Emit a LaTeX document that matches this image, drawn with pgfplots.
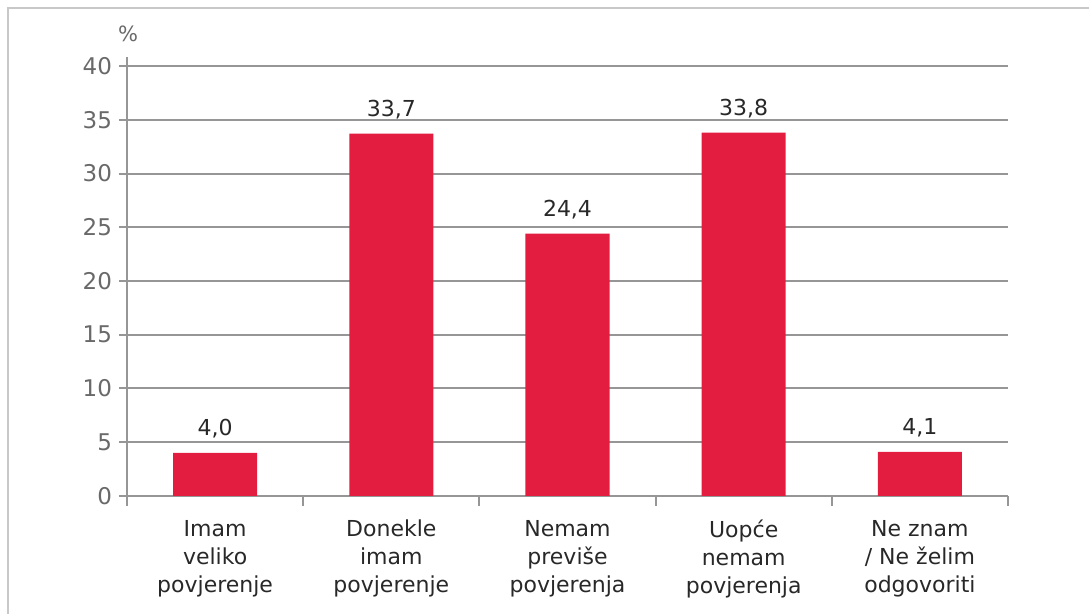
\documentclass[border=0pt]{standalone}
\usepackage{fontspec}
\setmainfont{DejaVu Sans}
\usepackage{pgfplots}
\pgfplotsset{compat=1.18}
\definecolor{barred}{RGB}{227,29,64}
\definecolor{gridc}{RGB}{150,150,150}
\definecolor{framec}{RGB}{200,200,200}
\definecolor{tickc}{RGB}{105,105,105}
\definecolor{txt}{RGB}{40,40,40}
\begin{document}
\begin{tikzpicture}
\useasboundingbox (0,0) rectangle (544.5pt,307pt);
\draw[framec, line width=1.2pt] (4pt,0) -- (4pt,303pt) -- (544.5pt,303pt);
\node[text=tickc, font=\fontsize{10.5}{12}\selectfont] at (64pt,290pt) {\%};
\begin{axis}[
  at={(63.5pt,59pt)}, anchor=south west,
  scale only axis, width=440.5pt, height=219.5pt,
  xmin=-0.5, xmax=4.5, ymin=0, ymax=40.84,
  axis x line*=bottom, axis y line*=left,
  axis line style={gridc, line width=1pt},
  ytick={0,5,...,40},
  ymajorgrids, grid style={gridc, line width=1pt},
  tick align=outside,
  major tick length=4pt,
  y tick style={gridc, line width=1pt},
  yticklabel style={text=tickc, font=\fontsize{11.5}{13}\selectfont},
  /pgf/number format/assume math mode=true,
  xtick={0,...,4},
  xticklabels={{Imam\\veliko\\povjerenje},{Donekle\\imam\\povjerenje},{Nemam\\previše\\povjerenja},{Uopće\\nemam\\povjerenja},{Ne znam\\/ Ne želim\\odgovoriti}},
  x tick label style={align=center, text=txt, font=\fontsize{11}{14}\selectfont, yshift=-4.5pt},
  major x tick style={draw=none},
  minor xtick={-0.5,0.5,...,4.5},
  minor x tick style={gridc, line width=1pt},
  minor tick length=5pt,
  ybar, bar width=42pt,
  nodes near coords={\pgfmathprintnumber[fixed,fixed zerofill,precision=1,use comma]{\pgfplotspointmeta}},
  every node near coord/.append style={text=txt, font=\fontsize{11}{13}\selectfont, yshift=4pt},
]
\addplot[fill=barred, draw=none] coordinates {(0,4.0) (1,33.7) (2,24.4) (3,33.8) (4,4.1)};
\end{axis}
\end{tikzpicture}
\end{document}
